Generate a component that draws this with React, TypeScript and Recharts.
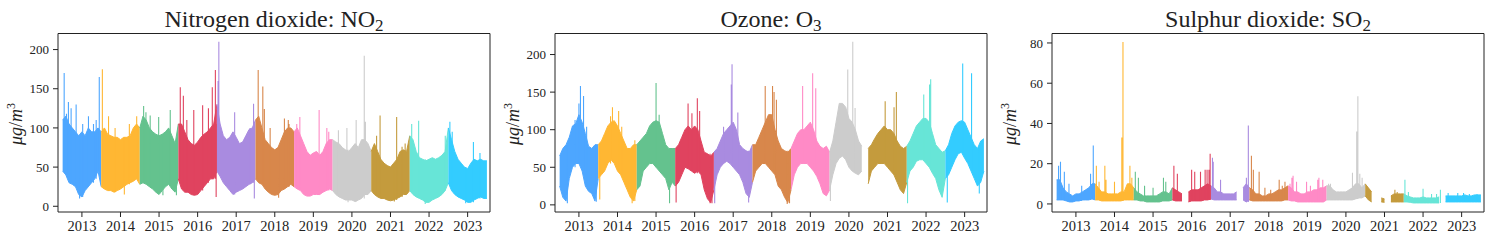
import React from 'react';
import { ComposedChart, Area, Line, XAxis, YAxis, ReferenceArea } from 'recharts';

// monthly samples from Jul 2012 (index 0) to Jul 2023 (index 132), one colour per Jul-Jun year
const START = 2012.5;
const X_DOMAIN: [number, number] = [2012.38, 2023.58];
const YEAR_TICKS = [2013, 2014, 2015, 2016, 2017, 2018, 2019, 2020, 2021, 2022, 2023];
const SEG_COLORS = ['#4da6ff', '#ffb733', '#64c28e', '#e0435f', '#a98be0', '#d8874b', '#ff8ac6', '#cccccc', '#c49b3d', '#67e5d7', '#33ccff'];

const NO2_HI = [
  110, 115, 105, 100, 95, 90, 95, 90, 100, 95, 95, 100,
  95, 100, 92, 90, 88, 88, 85, 88, 88, 90, 100, 105,
  100, 115, 110, 100, 95, 92, 90, 92, 95, 100, 90, 80,
  105, 105, 95, 85, 80, 78, 82, 88, 92, 95, 100, 105,
  130, 105, 90, 85, 88, 95, 88, 80, 82, 90, 98, 100,
  110, 115, 100, 85, 80, 75, 72, 75, 85, 95, 100, 100,
  95, 100, 90, 80, 70, 65, 68, 70, 65, 70, 80, 85,
  85, 82, 80, 75, 72, 70, 75, 80, 75, 85, 85, 80,
  70, 80, 70, 60, 55, 52, 50, 55, 60, 70, 72, 70,
  90, 85, 70, 62, 60, 58, 60, 62, 60, 62, 65, 70,
  100, 85, 70, 60, 55, 50, 48, 55, 60, 58, 60, 58,
  58,
];
const NO2_LO = [
  45, 40, 30, 28, 25, 15, 12, 20, 25, 30, 35, 45,
  25, 22, 20, 20, 18, 20, 22, 25, 28, 30, 32, 35,
  28, 30, 28, 25, 22, 18, 15, 20, 25, 28, 22, 18,
  35, 22, 18, 18, 15, 14, 15, 20, 25, 30, 35, 35,
  45, 38, 30, 25, 20, 15, 18, 20, 22, 25, 28, 30,
  35, 30, 28, 22, 18, 15, 14, 15, 20, 22, 25, 28,
  25, 22, 20, 15, 13, 13, 15, 15, 15, 18, 20, 22,
  20, 15, 12, 10, 8, 8, 8, 6, 8, 10, 15, 15,
  20, 15, 12, 10, 10, 8, 7, 8, 10, 12, 15, 15,
  20, 15, 12, 10, 8, 5, 5, 8, 10, 12, 15, 20,
  30, 20, 15, 12, 10, 8, 5, 5, 8, 10, 12, 10,
  10,
];
const NO2_SPIKES: [number, number][] = [
  [2012.54, 170], [2012.6, 118], [2012.65, 133], [2012.72, 125], [2012.85, 130], [2012.94, 10], [2013.02, 105],
  [2013.17, 115], [2013.3, 105], [2013.37, 110], [2013.45, 165],
  [2013.53, 175], [2013.69, 115], [2013.86, 100], [2014.1, 15], [2014.23, 105], [2014.42, 115],
  [2014.6, 128], [2014.66, 120], [2014.77, 116], [2014.99, 114], [2015.1, 14], [2015.29, 123], [2015.45, 14],
  [2015.55, 152], [2015.63, 141], [2015.72, 110], [2015.9, 123], [2016.13, 129], [2016.28, 125], [2016.38, 152], [2016.46, 174], [2016.48, 12],
  [2016.53, 160], [2016.55, 210], [2016.58, 130], [2016.96, 120], [2017.36, 100], [2017.45, 131], [2017.47, 10],
  [2017.57, 174], [2017.69, 153], [2017.73, 124], [2017.88, 100], [2018.1, 11], [2018.25, 112], [2018.35, 110], [2018.37, 105],
  [2018.57, 105], [2018.65, 114], [2019.15, 123], [2019.35, 100], [2019.4, 95],
  [2019.65, 97], [2019.87, 100], [2019.9, 5], [2020.11, 110], [2020.32, 192], [2020.35, 108],
  [2020.64, 90], [2020.73, 116], [2021.16, 114], [2021.3, 76], [2021.38, 80], [2021.1, 6],
  [2021.55, 105], [2021.73, 109], [2021.9, 3], [2022.42, 90],
  [2022.54, 108], [2022.6, 95], [2022.95, 4], [2023.15, 82], [2023.32, 68],
];

const O3_HI = [
  65, 75, 80, 90, 105, 108, 120, 110, 95, 78, 75, 80,
  80, 85, 95, 105, 110, 112, 105, 95, 85, 75, 75, 80,
  80, 85, 90, 95, 105, 110, 112, 110, 95, 80, 75, 75,
  75, 80, 90, 100, 105, 100, 105, 100, 85, 70, 68, 65,
  70, 75, 85, 95, 100, 105, 110, 100, 80, 75, 72, 70,
  80, 80, 90, 100, 110, 120, 120, 100, 85, 75, 72, 70,
  75, 85, 95, 100, 100, 105, 110, 100, 85, 78, 75, 78,
  70, 85, 110, 135, 135, 130, 115, 110, 100, 85, 78, null,
  75, 80, 88, 95, 100, 105, 100, 100, 95, 85, 78, 75,
  78, 85, 95, 105, 110, 115, 115, 110, 95, 80, 75, 70,
  72, 80, 95, 105, 110, 112, 110, 100, 90, 80, 75, 85,
  88,
];
const O3_LO = [
  25, 10, 5, 35, 50, 55, 55, 45, 25, 18, 15, 5,
  35, 40, 45, 55, 60, 55, 45, 40, 30, 20, 10, 5,
  20, 25, 45, 50, 55, 55, 50, 45, 40, 35, 20, 30,
  25, 30, 40, 50, 48, 45, 42, 45, 40, 20, 8, 3,
  20, 40, 50, 55, 58, 55, 50, 45, 40, 30, 15, 10,
  30, 45, 50, 55, 55, 50, 45, 40, 25, 20, 10, 3,
  20, 40, 50, 55, 55, 55, 50, 45, 38, 28, 15, 12,
  20, 40, 55, 62, 65, 60, 50, 45, 42, 40, 45, null,
  28, 45, 50, 55, 55, 55, 50, 45, 40, 30, 20, 15,
  30, 45, 50, 58, 60, 60, 55, 50, 42, 35, 20, 10,
  35, 40, 50, 60, 68, 70, 62, 55, 45, 35, 25, 30,
  45,
];
const O3_SPIKES: [number, number][] = [
  [2012.6, 10], [2012.7, 2], [2012.9, 113], [2013.0, 135], [2013.04, 158], [2013.12, 145], [2013.2, 104], [2013.45, 4],
  [2013.54, 7], [2013.82, 118], [2013.87, 130], [2014.03, 125], [2014.11, 104], [2014.12, 95], [2014.38, 2], [2014.45, 86],
  [2014.84, 102], [2015.0, 162], [2015.08, 120], [2015.15, 100], [2015.35, 2],
  [2015.52, 3], [2015.83, 135], [2015.93, 122], [2016.07, 142], [2016.13, 125], [2016.4, 2], [2016.45, 2],
  [2016.52, 2], [2016.75, 104], [2016.95, 160], [2016.97, 187], [2017.12, 123], [2017.4, 3],
  [2017.83, 158], [2018.02, 158], [2018.06, 150], [2018.12, 140], [2018.4, 1], [2018.46, 2],
  [2018.8, 158], [2019.06, 175], [2019.14, 155], [2019.4, 13],
  [2019.52, 5], [2019.97, 180], [2020.1, 217], [2020.16, 129],
  [2020.94, 138], [2021.17, 130], [2021.23, 150], [2021.45, 15],
  [2021.52, 2], [2021.94, 147], [2022.09, 160], [2022.12, 167],
  [2022.55, 3], [2022.95, 188], [2023.18, 175], [2023.38, 15],
];

const SO2_HI = [
  12, 12, 8, 6, 5, 4, 5, 5, 6, 7, 8, 10,
  10, 8, 6, 6, 5, 5, 5, 5, 6, 6, 10, 10,
  8, 6, 5, 4, 4, 4, 4, 4, 5, 6, 6, 5,
  8, 7, 6, 5, null, 6, 7, 7, 7, 8, 9, 10,
  9, 8, 6, 6, 5, 5, 5, 5, 6, null, 8, 10,
  8, 7, 5, 5, 4, 4, 5, 5, 6, 7, 7, 8,
  9, 8, 6, 6, 5, 5, 6, 6, 7, 7, 8, 8,
  9, 9, 7, 6, 6, 6, 6, 7, 8, 10, 10, 8,
  10, 8, 6, null, null, 3, 2.5, null, 4, 5, 5, 5,
  5, 4, 3.5, 3, 3, 3, 3.5, 3, 3, 3, 3, 3.5,
  null, 4, 4, 4, 4, 4, 4, 4.5, 4, 4, 4.5, 4.5,
  4.5,
];
const SO2_LO = [
  2, 2, 2, 1.5, 1, 1, 1.5, 1.5, 2, 2, 2, 2.5,
  2, 2, 1.5, 1.5, 1.5, 1.5, 1.5, 1.5, 1.5, 2, 2, 2,
  2, 2, 1.5, 1.5, 1, 1, 1, 1, 1, 1.5, 1.5, 1.5,
  2, 1.5, 1.5, 1.5, null, 1, 1.5, 1.5, 1.5, 1.5, 2, 2,
  2.5, 2, 2, 2, 2, 2, 2, 2, 2, null, 2, 1,
  2, 1.5, 1.5, 1.5, 1.5, 1.5, 1.5, 1.5, 1.5, 1.5, 1.5, 2,
  2, 1.5, 1.5, 1, 1, 1, 1, 1, 1, 1, 1, 1,
  2, 2, 2, 2, 2, 2, 2, 2, 2, 2.5, 3, 3,
  4, 2, 1, null, null, 1, 0.8, null, 1, 1, 1, 1,
  1, 1, 0.8, 0.5, 0.5, 0.5, 0.5, 0.5, 0.5, 0.5, 0.5, 0.5,
  null, 1, 1, 1, 1, 1, 1, 1, 1, 1, 1, 1,
  1,
];
const SO2_SPIKES: [number, number][] = [
  [2012.55, 19], [2012.6, 21], [2012.7, 16], [2012.82, 10], [2013.15, 9], [2013.38, 15], [2013.45, 29],
  [2013.53, 19], [2013.6, 11], [2013.75, 19], [2013.78, 12], [2014.0, 11], [2014.19, 33], [2014.22, 80.5], [2014.4, 19], [2014.45, 13],
  [2014.54, 16], [2014.62, 13], [2014.78, 9], [2015.0, 8], [2015.27, 13], [2015.33, 11],
  [2015.54, 19], [2015.63, 15], [2016.0, 17], [2016.08, 16], [2016.23, 16], [2016.35, 17], [2016.4, 17], [2016.45, 17], [2016.48, 25],
  [2016.54, 23], [2016.56, 21], [2016.75, 12], [2017.42, 13], [2017.47, 39],
  [2017.55, 24], [2017.6, 17], [2017.75, 16], [2017.9, 8], [2018.05, 7], [2018.27, 12], [2018.35, 9], [2018.42, 11],
  [2018.55, 10], [2018.6, 13], [2018.63, 14], [2018.72, 11], [2018.98, 11], [2019.08, 9], [2019.27, 12], [2019.3, 13], [2019.4, 12],
  [2019.55, 10], [2019.6, 10], [2020.17, 15.5], [2020.28, 36], [2020.31, 53.5], [2020.36, 15], [2020.42, 13],
  [2020.52, 10], [2021.27, 7], [2021.33, 6],
  [2021.53, 12], [2021.62, 6], [2022.0, 7.5], [2022.22, 5], [2022.35, 5], [2022.45, 7],
  [2022.65, 5.5], [2022.9, 5.5], [2023.05, 5.5], [2023.2, 5], [2023.4, 5],
];

const FONT = '"Liberation Serif", "DejaVu Serif", serif';
const INK = '#222';
const PLOT_W = 432;

type Num = number | null;

function buildSegments(lo: Num[], hi: Num[]) {
  return SEG_COLORS.map((_, k) => {
    const pts = [];
    for (let i = 12 * k; i <= 12 * k + 12; i++) {
      const a = lo[i];
      const b = hi[i];
      pts.push({ t: START + i / 12, r: a == null || b == null ? null : [a, b] });
    }
    return pts;
  });
}

// each spike is a vertical stroke from the band edge out to the value
function buildSpikes(spikes: [number, number][], lo: Num[], hi: Num[]) {
  const bySeg: { t: number; v: number | null }[][] = SEG_COLORS.map(() => []);
  spikes.forEach(([t, v]) => {
    const i = Math.min(131, Math.floor((t - START) * 12));
    const a = lo[i];
    const b = hi[i];
    if (a == null || b == null) return;
    const base = v > b ? a : v < a ? b : null;
    if (base == null) return;
    const k = Math.min(10, Math.floor(t - START));
    bySeg[k].push({ t, v: base }, { t, v }, { t, v: null });
  });
  return bySeg;
}

interface PanelProps {
  plotLeft: number;
  title: string;
  sub: string;
  yDomain: [number, number];
  yTicks: number[];
  lo: Num[];
  hi: Num[];
  spikes: [number, number][];
}

function Panel({ plotLeft, title, sub, yDomain, yTicks, lo, hi, spikes }: PanelProps) {
  const segs = buildSegments(lo, hi);
  const spikeSegs = buildSpikes(spikes, lo, hi);
  const axisW = 58;
  const cx = plotLeft + PLOT_W / 2;
  return (
    <>
      <svg width={1494} height={244} style={{ position: 'absolute', left: 0, top: 0, pointerEvents: 'none' }}>
        <text x={cx} y={27.3} textAnchor="middle" fontFamily={FONT} fontSize={24} fill={INK}>
          {title}
          <tspan dy={4} fontSize={17}>{sub}</tspan>
        </text>
        <text
          transform={`translate(${plotLeft - 36}, 124) rotate(-90)`}
          textAnchor="middle"
          fontFamily={FONT}
          fontSize={18}
          fill={INK}
        >
          <tspan fontStyle="italic">μg</tspan>/<tspan fontStyle="italic">m</tspan>
          <tspan dy={-7} fontSize={12}>3</tspan>
        </text>
      </svg>
      <div style={{ position: 'absolute', left: plotLeft - axisW, top: 0 }}>
        <ComposedChart width={axisW + PLOT_W + 2} height={244} margin={{ top: 33.5, right: 2, bottom: 0, left: 0 }}>
          <XAxis
            type="number"
            dataKey="t"
            domain={X_DOMAIN}
            ticks={YEAR_TICKS}
            interval={0}
            allowDataOverflow
            axisLine={false}
            tickSize={5}
            tickMargin={4}
            height={32}
            tickLine={{ stroke: INK }}
            tick={{ fontSize: 14.5, fill: INK, fontFamily: FONT }}
          />
          <YAxis
            type="number"
            domain={yDomain}
            ticks={yTicks}
            interval={0}
            allowDataOverflow
            axisLine={false}
            tickSize={5}
            tickMargin={4}
            width={axisW}
            tickLine={{ stroke: INK }}
            tick={{ fontSize: 13, fill: INK, fontFamily: FONT }}
          />
          {segs.map((d, k) => (
            <Area
              key={`a${k}`}
              data={d}
              dataKey="r"
              type="linear"
              fill={SEG_COLORS[k]}
              fillOpacity={1}
              stroke={SEG_COLORS[k]}
              strokeWidth={1}
              dot={false}
              activeDot={false}
              isAnimationActive={false}
            />
          ))}
          {spikeSegs.map((d, k) => (
            <Line
              key={`s${k}`}
              data={d}
              dataKey="v"
              type="linear"
              stroke={SEG_COLORS[k]}
              strokeWidth={1.1}
              dot={false}
              activeDot={false}
              connectNulls={false}
              isAnimationActive={false}
            />
          ))}
          <ReferenceArea
            x1={X_DOMAIN[0]}
            x2={X_DOMAIN[1]}
            y1={yDomain[0]}
            y2={yDomain[1]}
            fill="none"
            stroke={INK}
            strokeWidth={1}
            ifOverflow="visible"
          />
        </ComposedChart>
      </div>
    </>
  );
}

export default function App() {
  return (
    <div style={{ position: 'absolute', left: 0, top: 0, width: 1494, height: 244, background: '#fff', overflow: 'hidden' }}>
      <Panel
        plotLeft={58}
        title="Nitrogen dioxide: NO"
        sub="2"
        yDomain={[-7.3, 220.5]}
        yTicks={[0, 50, 100, 150, 200]}
        lo={NO2_LO}
        hi={NO2_HI}
        spikes={NO2_SPIKES}
      />
      <Panel
        plotLeft={555}
        title="Ozone: O"
        sub="3"
        yDomain={[-9.5, 228]}
        yTicks={[0, 50, 100, 150, 200]}
        lo={O3_LO}
        hi={O3_HI}
        spikes={O3_SPIKES}
      />
      <Panel
        plotLeft={1052}
        title="Sulphur dioxide: SO"
        sub="2"
        yDomain={[-4, 84.7]}
        yTicks={[0, 20, 40, 60, 80]}
        lo={SO2_LO}
        hi={SO2_HI}
        spikes={SO2_SPIKES}
      />
    </div>
  );
}
